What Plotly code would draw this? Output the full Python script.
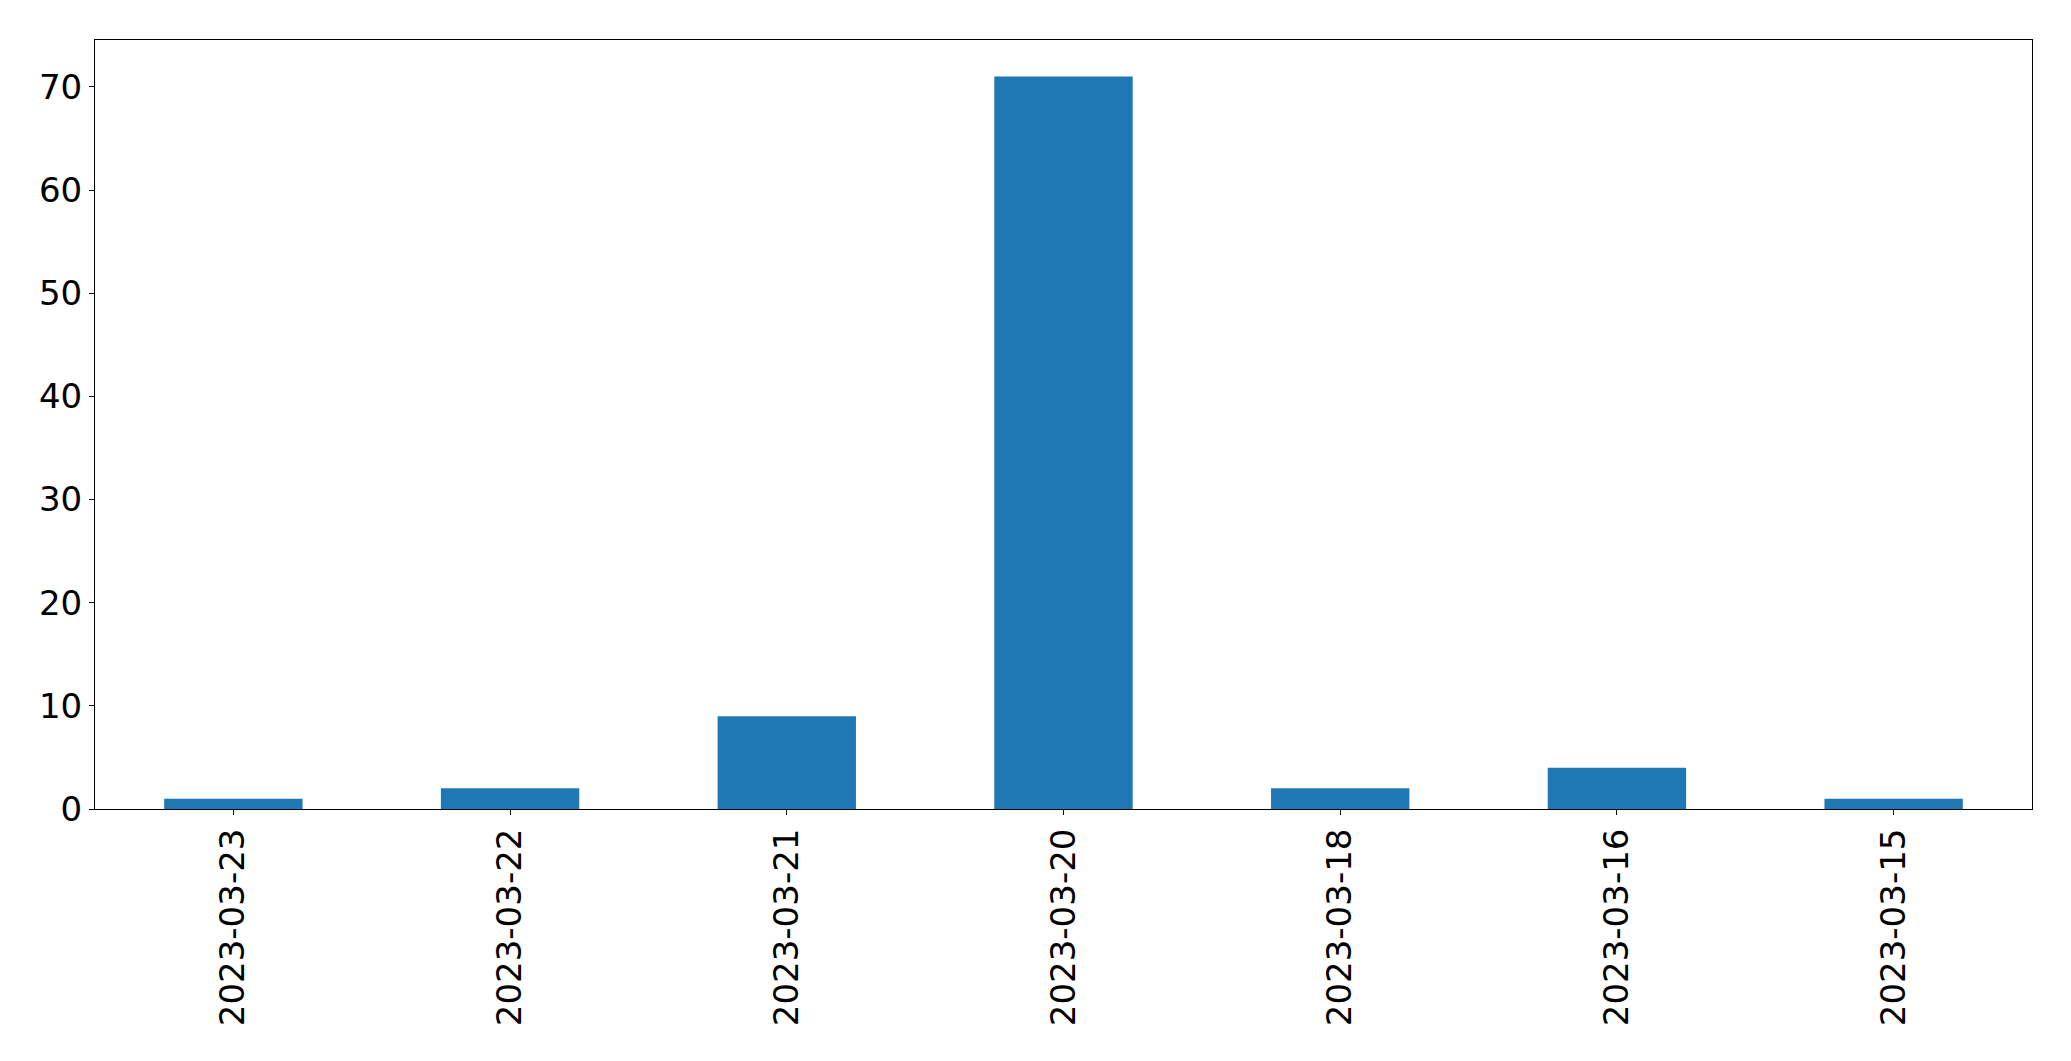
import plotly.graph_objects as go

dates = ["2023-03-23", "2023-03-22", "2023-03-21", "2023-03-20", "2023-03-18", "2023-03-16", "2023-03-15"]
counts = [1, 2, 9, 71, 2, 4, 1]
y_ticks = [0, 10, 20, 30, 40, 50, 60, 70]

fig = go.Figure(go.Bar(x=dates, y=counts, width=0.5, marker=dict(color="#1f77b4", line=dict(width=0))))

font = dict(family="DejaVu Sans", size=34, color="black")
fig.update_layout(
    width=2063, height=1053,
    margin=dict(l=87, r=39, t=32, b=252),
    plot_bgcolor="white", paper_bgcolor="white",
    showlegend=False,
    font=font,
)
fig.update_xaxes(
    type="category", range=[-0.5, len(dates) - 0.5],
    showline=True, linecolor="black", linewidth=1, mirror=True,
    ticks="outside", ticklen=5, tickwidth=1, tickcolor="black",
    tickangle=-90, showgrid=False, tickfont=font,
)
fig.update_yaxes(
    range=[0, max(counts) * 1.05],
    tickvals=y_ticks,
    showline=True, linecolor="black", linewidth=1, mirror=True,
    ticks="outside", ticklen=5, tickwidth=1, tickcolor="black",
    showgrid=False, zeroline=False, tickfont=font,
)
fig.write_html("out.html")
